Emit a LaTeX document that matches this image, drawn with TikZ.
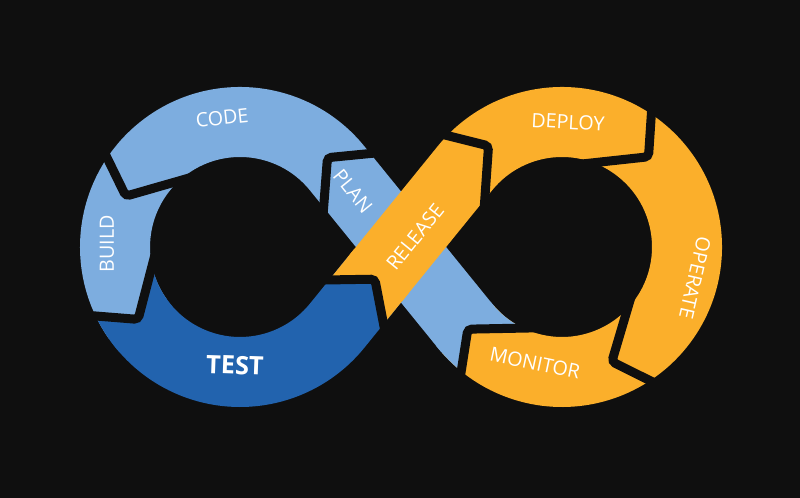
\documentclass[tikz,border=0pt]{standalone}
\usepackage{fontspec}
\setmainfont{Open Sans}
\usetikzlibrary{calc}

\definecolor{bgdark}{HTML}{0F0F0F}
\definecolor{skyblue}{HTML}{7DADDF}
\definecolor{deepblue}{HTML}{2263AE}
\definecolor{amber}{HTML}{FBAF2B}

\begin{document}
\begin{tikzpicture}[x=0.025cm, y=0.025cm,
    band/.style={line width=1.75cm, line cap=butt},
    gapline/.style={bgdark, line width=0.225cm, rounded corners=0.1cm},
    lbl/.style={text=white, inner sep=0pt, font=\fontsize{14pt}{16pt}\selectfont}]

            \pgfmathsetmacro{\tang}{acos(125/161)}

            % background
            \useasboundingbox (0,0) rectangle (800,498);
            \fill[bgdark] (0,0) rectangle (800,498);

            % Define centres of the two loops and the tangent points of the crossing
            \coordinate (cl) at (240,251);
            \coordinate (cr) at (562,251);
            \coordinate (t1) at ($(cl)+(\tang:125)$);
            \coordinate (t2) at ($(cl)+(-\tang:125)$);
            \coordinate (t3) at ($(cr)+(180-\tang:125)$);
            \coordinate (t4) at ($(cr)+(\tang-180:125)$);

            % tips where one stage hands over to the next
            \coordinate (b1) at ($(cr)+(-138.9:125)$);
            \coordinate (b2) at ($(cl)+(45.6:125)$);
            \coordinate (b3) at ($(cl)+(156:125)$);
            \coordinate (b4) at ($(cl)+(215.4:125)$);
            \coordinate (b5) at ($(t2)!1.5cm!(t3)$);
            \coordinate (b6) at ($(cr)+(126:125)$);
            \coordinate (b7) at ($(cr)+(46.2:125)$);
            \coordinate (b8) at ($(cr)+(-66.5:125)$);

            % bands: plan/code/build, test, then release ... monitor on top
            \draw[band, skyblue] (b1) arc[start angle=-138.9, end angle=\tang-180, radius=125] -- (t1) arc[start angle=\tang, end angle=215.4, radius=125];
            \draw[band, deepblue] (b4) arc[start angle=215.4, end angle=360-\tang, radius=125] -- (b5);
            \draw[band, amber] (b5) -- (t3) arc[start angle=180-\tang, end angle=-138.9, radius=125];

            % notched tails where the colour changes
            \begin{scope}
                \clip (b1) -- ($(b1)+(261.1:75)$) -- ($(b1)+(261.1:75)+(131.1:100)$) -- ($(b1)+(361.1:75)+(131.1:100)$) -- ($(b1)+(361.1:75)$) -- cycle;
                \draw[band, skyblue] ($(cr)+(-113.9:125)$) arc[start angle=-113.9, end angle=-142, radius=125];
            \end{scope}
            \begin{scope}
                \clip (b4) -- ($(b4)+(435.4:75)$) -- ($(b4)+(435.4:75)+(305.4:100)$) -- ($(b4)+(535.4:75)+(305.4:100)$) -- ($(b4)+(535.4:75)$) -- cycle;
                \draw[band, deepblue] ($(cl)+(190.4:125)$) arc[start angle=190.4, end angle=221, radius=125];
            \end{scope}
            \begin{scope}
                \clip (b5) -- ($(b5)+(220.94-\tang:75)$) -- ($(b5)+(220.94-\tang:75)+(90-\tang:100)$) -- ($(b5)+(320.94-\tang:75)+(90-\tang:100)$) -- ($(b5)+(320.94-\tang:75)$) -- cycle;
                \draw[band, amber] (t2) -- ($(t2)!1.75cm!(t3)$);
            \end{scope}

            % gaps between the stages
            \foreach \b/\d in {b1/131.1, b2/135.6, b3/246, b4/305.4, b5/50.94, b6/36, b7/-43.8, b8/-156.5}
                \draw[gapline] ($(\b)+(\d+130:70)$) -- (\b) -- ($(\b)+(\d+230:70)$);

            % stage names
            \node[lbl, rotate=6] (code) at (222,380) {CODE};
            \node[lbl, rotate=90] (build) at (107,254) {BUILD};
            \node[lbl, rotate=-2, font=\fontsize{18pt}{20pt}\selectfont\bfseries] (test) at (235,133) {TEST};
            \node[lbl, rotate=-51] (plan) at (353,307) {PLAN};
            \node[lbl, rotate=51] (release) at (415,261) {RELEASE};
            \node[lbl, rotate=-3] (deploy) at (568,376) {DEPLOY};
            \node[lbl, rotate=-103] (operate) at (695,220) {OPERATE};
            \node[lbl, rotate=-12] (monitor) at (535,135) {MONITOR};
        \end{tikzpicture}
\end{document}
